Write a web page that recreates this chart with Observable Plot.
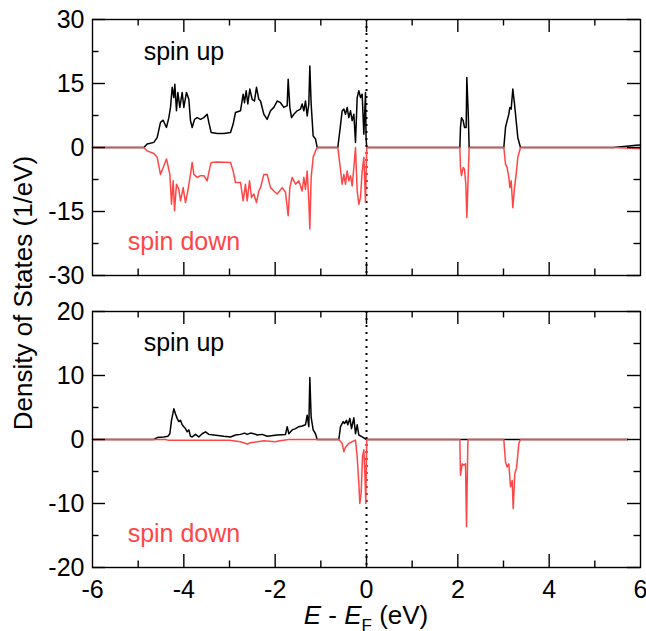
<!DOCTYPE html>
<html><head><meta charset="utf-8">
<script src="https://cdn.jsdelivr.net/npm/d3@7"></script>
<script src="https://cdn.jsdelivr.net/npm/@observablehq/plot@0.6"></script>
<style>
html,body{margin:0;padding:0;background:#fff;overflow:hidden;}
#wrap{position:relative;width:646px;height:631px;font-family:"Liberation Sans",Arial,Helvetica,sans-serif;overflow:hidden;background:#fff;}
#top,#bot{position:absolute;left:0;}
#top{top:0}
#bot{top:290px}
.ylab{position:absolute;left:23px;top:293px;transform:translate(-50%,-50%) rotate(-90deg);font-size:26px;white-space:nowrap;line-height:26px;color:#000}
.xlab{position:absolute;left:366px;top:602px;transform:translateX(-50%);font-size:26px;white-space:nowrap;line-height:26px;color:#000}
.sub{font-size:17px;position:relative;top:7px}
</style></head><body>
<div id="wrap">
<div id="top"></div>
<div id="bot"></div>
<div class="ylab">Density of States (1/eV)</div>
<div class="xlab"><i>E</i> - <i>E</i><span class="sub">F</span> (eV)</div>
</div>
<script>
// ---- Data: [energy (eV), DOS (1/eV)] ----
const topUp = [
[-6,0],[-4.876,0],[-4.803,0.8],[-4.657,1.2],[-4.584,2.3],[-4.511,5.9],[-4.452,6.4],[-4.380,4.7],[-4.328,7.0],[-4.292,9.4],[-4.255,14.1],[-4.219,11.7],[-4.197,14.8],[-4.161,8.6],[-4.131,12.9],[-4.088,9.4],[-4.036,12.9],[-4.000,9.4],[-3.942,12.9],[-3.891,11.3],[-3.854,6.3],[-3.817,4.7],[-3.766,6.6],[-3.708,7.0],[-3.635,6.6],[-3.562,7.0],[-3.489,7.8],[-3.453,5.9],[-3.401,3.5],[-3.270,3.3],[-3.124,3.3],[-2.978,3.5],[-2.920,5.5],[-2.869,8.2],[-2.759,8.6],[-2.701,12.5],[-2.672,10.5],[-2.635,13.3],[-2.599,10.2],[-2.555,13.7],[-2.504,11.3],[-2.453,10.9],[-2.409,14.1],[-2.358,11.3],[-2.321,10.9],[-2.248,7.8],[-2.175,6.6],[-2.102,8.6],[-2.029,9.4],[-1.956,10.9],[-1.883,10.5],[-1.810,9.4],[-1.737,9.8],[-1.715,16.0],[-1.679,9.4],[-1.642,7.0],[-1.591,7.8],[-1.518,8.6],[-1.445,9.0],[-1.409,10.2],[-1.372,8.6],[-1.336,10.9],[-1.299,7.4],[-1.263,10.2],[-1.241,19.1],[-1.212,10.2],[-1.168,2.7],[-1.117,2.0],[-1.080,0],[-0.628,0],[-0.584,3.9],[-0.533,8.6],[-0.496,9.0],[-0.460,7.8],[-0.423,9.4],[-0.387,7.0],[-0.350,8.6],[-0.314,6.3],[-0.277,7.8],[-0.241,1.2],[-0.204,11.7],[-0.168,13.3],[-0.131,11.7],[-0.095,12.5],[-0.058,3.1],[-0.022,12.9],[-0.010,2.3],[0.005,0],
[2.044,0],[2.058,4.7],[2.080,7.0],[2.117,6.3],[2.146,4.7],[2.182,4.7],[2.197,16.4],[2.226,8.6],[2.248,0],
[3.007,0],[3.044,4.7],[3.080,6.3],[3.117,7.8],[3.139,9.4],[3.168,9.0],[3.204,13.7],[3.241,10.2],[3.277,6.3],[3.314,2.3],[3.372,0],
[5.4,0],[5.7,0.3],[5.9,0.5],[6,0.6]
];
const topDown = [
[-6,0],[-4.876,0],[-4.803,-0.8],[-4.657,-1.4],[-4.584,-2.3],[-4.511,-6.3],[-4.452,-4.7],[-4.380,-2.7],[-4.306,-6.3],[-4.270,-13.3],[-4.233,-7.8],[-4.204,-14.8],[-4.161,-8.6],[-4.110,-9.8],[-4.073,-12.5],[-4.015,-9.4],[-3.964,-12.9],[-3.913,-10.2],[-3.854,-6.3],[-3.817,-3.5],[-3.781,-6.3],[-3.708,-7.0],[-3.635,-6.6],[-3.562,-6.6],[-3.489,-7.8],[-3.430,-4.7],[-3.401,-3.5],[-3.270,-3.4],[-2.978,-3.5],[-2.920,-5.5],[-2.869,-8.2],[-2.759,-8.2],[-2.701,-12.5],[-2.650,-8.6],[-2.613,-12.5],[-2.562,-7.8],[-2.518,-11.7],[-2.467,-10.9],[-2.409,-12.9],[-2.358,-10.2],[-2.321,-9.4],[-2.248,-6.3],[-2.175,-6.3],[-2.102,-9.4],[-2.029,-10.2],[-1.956,-10.9],[-1.846,-9.4],[-1.774,-10.5],[-1.715,-16.0],[-1.679,-9.4],[-1.628,-7.0],[-1.554,-8.6],[-1.482,-7.8],[-1.409,-10.2],[-1.372,-7.0],[-1.336,-9.8],[-1.299,-5.5],[-1.263,-12.5],[-1.241,-19.1],[-1.212,-7.0],[-1.168,-2.3],[-1.117,-0.8],[-1.080,0],[-0.628,0],[-0.584,-3.9],[-0.533,-8.6],[-0.496,-6.3],[-0.460,-8.6],[-0.423,-5.5],[-0.387,-7.8],[-0.350,-6.6],[-0.314,-9.0],[-0.277,-4.7],[-0.241,0],[-0.204,-10.2],[-0.168,-13.3],[-0.131,-11.7],[-0.095,-5.5],[-0.058,-2.3],[-0.022,-12.9],[0.005,0],
[2.044,0],[2.058,-4.7],[2.080,-6.6],[2.117,-4.7],[2.146,-5.1],[2.175,-8.6],[2.197,-16.4],[2.226,-7.0],[2.248,0],
[3.007,0],[3.044,-3.9],[3.080,-4.7],[3.117,-7.0],[3.139,-9.4],[3.168,-7.8],[3.204,-14.1],[3.241,-9.4],[3.277,-6.3],[3.314,-2.3],[3.372,0],
[5.4,0],[5.8,-0.2],[6,-0.3]
];
const botUp = [
[-6,0],[-4.657,0],[-4.584,0.3],[-4.438,0.4],[-4.350,0.5],[-4.306,0.9],[-4.270,3.0],[-4.219,4.8],[-4.182,4.0],[-4.146,3.3],[-4.110,2.8],[-4.073,3.0],[-4.036,2.3],[-4.000,2.0],[-3.964,1.7],[-3.927,1.2],[-3.891,1.5],[-3.854,0.5],[-3.817,0.4],[-3.745,0.8],[-3.672,0.4],[-3.599,0.9],[-3.526,1.2],[-3.453,0.8],[-3.343,0.7],[-3.124,0.5],[-2.978,0.4],[-2.869,0.7],[-2.759,0.8],[-2.672,1.0],[-2.613,0.8],[-2.540,1.0],[-2.467,0.9],[-2.394,0.7],[-2.285,0.8],[-2.175,0.5],[-1.956,0.7],[-1.774,0.8],[-1.737,2.0],[-1.701,0.9],[-1.628,1.5],[-1.554,1.7],[-1.482,2.0],[-1.409,2.1],[-1.336,2.3],[-1.299,3.8],[-1.263,2.0],[-1.241,9.7],[-1.212,3.5],[-1.168,1.5],[-1.117,0.9],[-1.080,0],[-0.606,0],[-0.569,2.0],[-0.511,2.8],[-0.482,2.5],[-0.438,3.0],[-0.409,2.3],[-0.365,3.3],[-0.328,1.7],[-0.277,3.4],[-0.241,0.9],[-0.204,2.3],[-0.168,0.7],[-0.095,0.4],[0,0],[5.72,0]
];
const botDown = [
[-6,0],[-4.4,0],[-4.35,-0.1],[-3.8,-0.1],[-3.0,-0.1],[-2.76,-0.35],[-2.61,-0.7],[-2.54,-0.5],[-2.39,-0.35],[-2.25,-0.2],[-2.0,-0.35],[-1.9,-0.2],[-1.7,0],[-0.606,0],[-0.533,-0.6],[-0.496,-1.9],[-0.460,-1.2],[-0.387,-0.6],[-0.314,-0.35],[-0.241,-0.1],[-0.204,-2.7],[-0.168,-6.9],[-0.146,-10.0],[-0.117,-8.4],[-0.088,-2.7],[-0.058,-1.6],[-0.036,-5.3],[-0.015,-10.0],[0.005,0],
[2.044,0],[2.058,-5.6],[2.095,-3.8],[2.131,-4.0],[2.168,-3.8],[2.190,-13.6],[2.219,-0.6],[2.226,0],
[3.007,0],[3.044,-3.5],[3.080,-4.3],[3.117,-3.8],[3.153,-7.4],[3.190,-6.4],[3.212,-10.8],[3.248,-5.3],[3.285,-4.5],[3.336,-0.6],[3.372,0],[5.72,0]
];
const xDomain = [-6, 6];
const xLabelTicks = [-6, -4, -2, 0, 2, 4, 6];
const xMajorTicks = [-4, -2, 0, 2, 4];
const xMinorTicks = [-5, -3, -1, 1, 3, 5];
const topYDomain = [-30, 30];
const topYMajor = [-30, -15, 0, 15, 30];
const topYMinor = [-22.5, -7.5, 7.5, 22.5];
const botYDomain = [-20, 20];
const botYMajor = [-20, -10, 0, 10, 20];
const botYMinor = [-15, -5, 5, 15];
const seriesLabels = ["spin up", "spin down"];

const RED = "#ff4646";
const FONT = "'Liberation Sans', Arial, Helvetica, sans-serif";
const WIDTH = 646, ML = 92, MR = 6;
const MAJ = 13, MIN = 6.5, TW = 1.4;

// inward ticks on all four sides: short rules spanning the domain, inset to tick length
function frameTicks(xt, yt, size, fh, fw, yDomain) {
  const o = {stroke: "black", strokeWidth: TW};
  const [yLo, yHi] = yDomain;
  return [
    Plot.ruleX(xt, {...o, x: d => d, y1: yHi, y2: yLo, insetTop: fh - size}),
    Plot.ruleX(xt, {...o, x: d => d, y1: yHi, y2: yLo, insetBottom: fh - size}),
    Plot.ruleY(yt, {...o, y: d => d, x1: xDomain[0], x2: xDomain[1], insetRight: fw - size}),
    Plot.ruleY(yt, {...o, y: d => d, x1: xDomain[0], x2: xDomain[1], insetLeft: fw - size})
  ];
}

function panel({up, down, yDomain, yMajor, yMinor, height, marginTop, marginBottom, showX, upPos, downPos}) {
  const fh = height - marginTop - marginBottom;
  const fw = WIDTH - ML - MR;
  const marks = [
    Plot.ruleX([0], {stroke: "black", strokeWidth: 2, strokeDasharray: "2,5"}),
    Plot.line(up, {x: d => d[0], y: d => d[1], stroke: "black", strokeWidth: 1.5}),
    Plot.line(down, {x: d => d[0], y: d => d[1], stroke: RED, strokeWidth: 1.5}),
    ...frameTicks(xMajorTicks, yMajor, MAJ, fh, fw, yDomain),
    ...frameTicks(xMinorTicks, yMinor, MIN, fh, fw, yDomain),
    Plot.axisY({ticks: yMajor, anchor: "left", tickSize: 0, tickPadding: 8, tickFormat: d => String(d), label: null, fontSize: 25}),
    Plot.frame({stroke: "black", strokeWidth: 1.4}),
    Plot.text([seriesLabels[0]], {x: upPos[0], y: upPos[1], text: d => d, textAnchor: "start", fontSize: 25, fill: "black"}),
    Plot.text([seriesLabels[1]], {x: downPos[0], y: downPos[1], text: d => d, textAnchor: "start", fontSize: 25, fill: RED})
  ];
  if (showX) {
    marks.push(Plot.axisX({ticks: xLabelTicks, anchor: "bottom", tickSize: 0, tickPadding: 13, tickFormat: d => String(d), label: null, fontSize: 25}));
  } else {
    marks.push(Plot.axisX({ticks: [], anchor: "bottom", tickSize: 0, tickFormat: () => "", label: null}));
  }
  return Plot.plot({
    width: WIDTH, height,
    marginLeft: ML, marginRight: MR, marginTop, marginBottom,
    style: {fontFamily: FONT, fontSize: "25px", background: "white", color: "black", overflow: "visible"},
    x: {domain: xDomain, label: null},
    y: {domain: yDomain, label: null},
    marks
  });
}

document.getElementById("top").appendChild(panel({
  up: topUp, down: topDown, yDomain: topYDomain, yMajor: topYMajor, yMinor: topYMinor,
  height: 290, marginTop: 19, marginBottom: 15, showX: false,
  upPos: [-4.88, 22.5], downPos: [-5.23, -22.1]
}));
document.getElementById("bot").appendChild(panel({
  up: botUp, down: botDown, yDomain: botYDomain, yMajor: botYMajor, yMinor: botYMinor,
  height: 341, marginTop: 21, marginBottom: 64, showX: true,
  upPos: [-4.88, 15.1], downPos: [-5.23, -14.8]
}));
</script>
</body></html>
